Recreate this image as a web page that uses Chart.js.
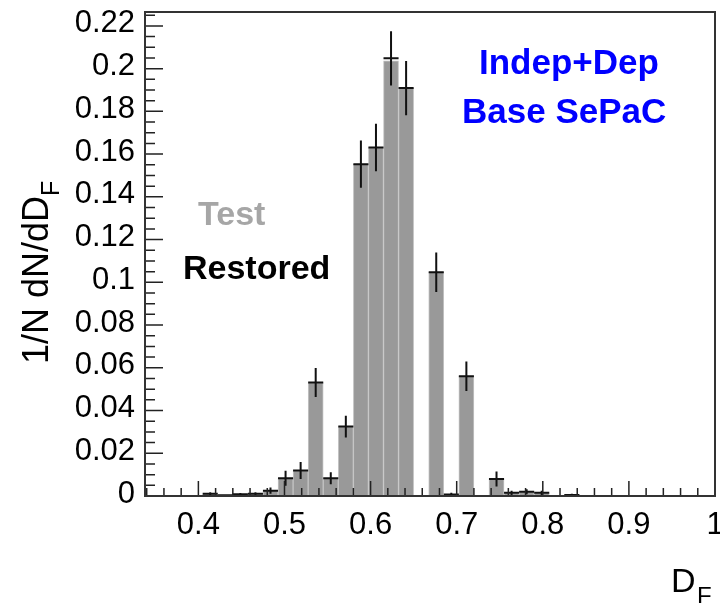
<!DOCTYPE html>
<html><head><meta charset="utf-8">
<script src="https://cdn.jsdelivr.net/npm/chart.js@4.4.1/dist/chart.umd.min.js"></script>
<style>html,body{margin:0;padding:0;background:#fff;overflow:hidden;} canvas{display:block;}</style>
</head><body>
<canvas id="c" width="720" height="603"></canvas>
<script>
// ---- data (40 bins, width 0.0175, from 0.3 to 1.0) ----
const binCenters = [0.30875,0.32625,0.34375,0.36125,0.37875,0.39625,0.41375,0.43125,0.44875,0.46625,
  0.48375,0.50125,0.51875,0.53625,0.55375,0.57125,0.58875,0.60625,0.62375,0.64125,
  0.65875,0.67625,0.69375,0.71125,0.72875,0.74625,0.76375,0.78125,0.79875,0.81625,
  0.83375,0.85125,0.86875,0.88625,0.90375,0.92125,0.93875,0.95625,0.97375,0.99125];
const binWidth = 0.0175;
const testValues = [0,0,0,0,0,0,0.0010,0.0003,0.0008,0.0010,
  0.0025,0.0083,0.0119,0.0531,0.0083,0.0325,0.1553,0.1631,0.2037,0.1909,
  0,0.1047,0.0007,0.0560,0,0.0080,0.0015,0.0020,0.0015,0,
  0.0005,0,0,0,0,0,0,0,0,0];
const restoredValues = [null,null,null,null,null,null,0.0010,0.0003,0.0008,0.0010,
  0.0025,0.0083,0.0119,0.0531,0.0083,0.0325,0.1553,0.1631,0.2048,0.1909,
  null,0.1047,0.0007,0.0560,null,0.0080,0.0015,0.0020,0.0015,null,
  0.0005,null,null,null,null,null,null,null,null,null];
const restoredErrors = [0,0,0,0,0,0,0.0008,0.0003,0.0006,0.0008,
  0.0015,0.0035,0.0040,0.0068,0.0028,0.0051,0.0111,0.0111,0.0127,0.0127,
  0,0.0092,0.0008,0.0069,0,0.0035,0.0010,0.0012,0.0010,0,
  0.0005,0,0,0,0,0,0,0,0,0];
const xTickValues = [0.4,0.5,0.6,0.7,0.8,0.9,1.0];
const xTickLabels = ['0.4','0.5','0.6','0.7','0.8','0.9','1'];
const yTickValues = [0,0.02,0.04,0.06,0.08,0.1,0.12,0.14,0.16,0.18,0.2,0.22];
const yTickLabels = ['0','0.02','0.04','0.06','0.08','0.1','0.12','0.14','0.16','0.18','0.2','0.22'];
const xMinorStep = 0.02, yMinorStep = 0.005;

const FONT = '"Liberation Sans", Arial, Helvetica, sans-serif';

const rootPlugin = {
  id: 'rootStyle',
  afterDatasetsDraw(chart) {
    const {ctx, chartArea: a, scales: {x, y}} = chart;
    ctx.save();
    ctx.beginPath(); ctx.rect(a.left, a.top, a.right - a.left, a.bottom - a.top); ctx.clip();
    ctx.strokeStyle = '#111'; ctx.lineWidth = 2; ctx.lineCap = 'butt';
    restoredValues.forEach((v, i) => {
      if (v == null) return;
      const c = binCenters[i], e = restoredErrors[i];
      const xl = x.getPixelForValue(c - binWidth / 2), xr = x.getPixelForValue(c + binWidth / 2);
      const xc = x.getPixelForValue(c);
      const yv = y.getPixelForValue(v);
      ctx.beginPath();
      ctx.moveTo(xl, yv); ctx.lineTo(xr, yv);
      ctx.moveTo(xc, y.getPixelForValue(v + e)); ctx.lineTo(xc, y.getPixelForValue(Math.max(0, v - e)));
      ctx.stroke();
    });
    ctx.restore();
  },
  afterDraw(chart) {
    const {ctx, chartArea: a, scales: {x, y}} = chart;
    ctx.save();
    // ticks (inward)
    ctx.strokeStyle = '#222'; ctx.lineWidth = 1.5;
    ctx.beginPath();
    for (let i = 0; ; i++) {
      const v = 0.34 + i * xMinorStep; if (v > 1.0001) break;
      const px = x.getPixelForValue(v);
      const major = xTickValues.some(t => Math.abs(t - v) < 1e-6);
      ctx.moveTo(px, a.bottom); ctx.lineTo(px, a.bottom - (major ? 15 : 8));
    }
    for (let i = 0; ; i++) {
      const v = i * yMinorStep; if (v > y.max) break;
      const py = y.getPixelForValue(v);
      const major = yTickValues.some(t => Math.abs(t - v) < 1e-6);
      ctx.moveTo(a.left, py); ctx.lineTo(a.left + (major ? 18 : 10), py);
    }
    ctx.stroke();
    // frame
    ctx.strokeStyle = '#333'; ctx.lineWidth = 2;
    ctx.strokeRect(a.left, a.top, a.right - a.left, a.bottom - a.top);
    // tick labels
    ctx.fillStyle = '#000';
    ctx.font = '31px ' + FONT;
    ctx.textAlign = 'right'; ctx.textBaseline = 'middle';
    yTickValues.forEach((v, i) => ctx.fillText(yTickLabels[i], a.left - 10, y.getPixelForValue(v) - 2));
    ctx.textAlign = 'center'; ctx.textBaseline = 'alphabetic';
    xTickValues.forEach((v, i) => ctx.fillText(xTickLabels[i], x.getPixelForValue(v), 534));
    // x title
    ctx.font = '34px ' + FONT; ctx.textAlign = 'left';
    ctx.fillText('D', 671, 592);
    ctx.font = '24px ' + FONT;
    ctx.fillText('F', 697, 604);
    // y title
    ctx.save();
    ctx.translate(48, 364); ctx.rotate(-Math.PI / 2);
    ctx.font = '36px ' + FONT; ctx.textAlign = 'left';
    ctx.fillText('1/N dN/dD', 0, 0);
    const w = ctx.measureText('1/N dN/dD').width;
    ctx.font = '25px ' + FONT;
    ctx.fillText('F', w, 11);
    ctx.restore();
    // legend-like texts
    ctx.textAlign = 'left';
    ctx.font = 'bold 34px ' + FONT;
    ctx.fillStyle = '#a6a6a6'; ctx.fillText('Test', 198, 225);
    ctx.fillStyle = '#000'; ctx.fillText('Restored', 183, 279);
    ctx.font = 'bold 35px ' + FONT;
    ctx.fillStyle = '#0000ff';
    ctx.fillText('Indep+Dep', 479, 74);
    ctx.fillText('Base SePaC', 462, 123);
    ctx.restore();
  }
};

new Chart(document.getElementById('c'), {
  type: 'bar',
  data: {
    datasets: [
      {
        label: 'Test',
        data: binCenters.map((c, i) => ({x: c, y: testValues[i]})),
        backgroundColor: '#999999',
        borderColor: '#c4c4c4',
        borderWidth: {left: 1, right: 1, top: 1, bottom: 0},
        barPercentage: 1.0,
        categoryPercentage: 1.0,
        order: 2
      },
      {
        type: 'scatter',
        label: 'Restored',
        data: binCenters.map((c, i) => ({x: c, y: restoredValues[i]})),
        pointRadius: 0,
        showLine: false,
        order: 1
      }
    ]
  },
  options: {
    responsive: false,
    animation: false,
    events: [],
    layout: {padding: {top: 12, right: 5, left: 0, bottom: 0}},
    plugins: {legend: {display: false}, tooltip: {enabled: false}},
    scales: {
      x: {
        type: 'linear', min: 0.338, max: 1.0, offset: false,
        grid: {display: false}, border: {display: false},
        ticks: {display: false},
        afterFit(s) { s.height = 107; }
      },
      y: {
        type: 'linear', min: 0, max: 0.2265,
        grid: {display: false}, border: {display: false},
        ticks: {display: false},
        afterFit(s) { s.width = 145; }
      }
    }
  },
  plugins: [rootPlugin]
});
</script>
</body></html>
